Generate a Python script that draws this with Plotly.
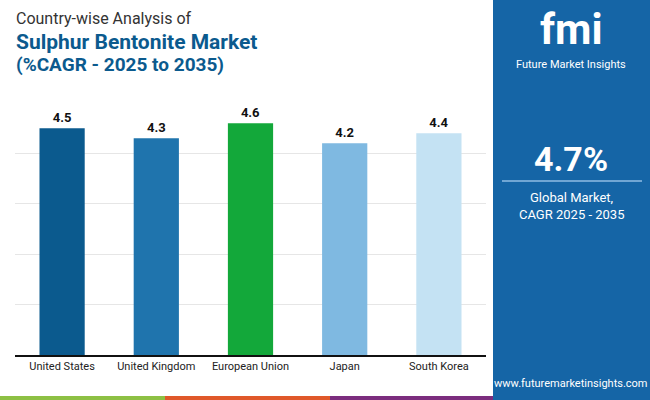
import plotly.graph_objects as go

countries = ["United States", "United Kingdom", "European Union", "Japan", "South Korea"]
cagr = [4.5, 4.3, 4.6, 4.2, 4.4]
colors = ["#0b5a8e", "#1f74ad", "#13a83a", "#7fb9e1", "#c4e2f3"]

W, H = 650, 400
L, R, T, B = 15, 486, 103, 355
PW, PH = R - L, B - T

def px(x, y):
    return (x - L) / PW, (B - y) / PH

fig = go.Figure(go.Bar(
    x=countries, y=cagr, marker=dict(color=colors, line=dict(width=0)),
    text=[f"{v:.1f}" for v in cagr], textposition="outside",
    textfont=dict(family="Roboto", size=13, color="#111", weight="bold"),
    cliponaxis=False, width=0.48,
))

def rect(x0, y0, x1, y1, color):
    a0, b0 = px(x0, y1)
    a1, b1 = px(x1, y0)
    return dict(type="rect", xref="paper", yref="paper", x0=a0, x1=a1, y0=b0, y1=b1,
                fillcolor=color, line=dict(width=0), layer="above")

lx0, ly = px(502, 181)
lx1, _ = px(642, 181)
fig.update_layout(
    width=W, height=H, paper_bgcolor="white", plot_bgcolor="white",
    margin=dict(l=L, r=W - R, t=T, b=H - B, autoexpand=False),
    showlegend=False, font=dict(family="Roboto"),
    xaxis=dict(showline=True, linecolor="#111", linewidth=1.5, automargin=False,
               tickfont=dict(size=11, color="#222"), ticks=""),
    yaxis=dict(range=[0, 5], dtick=1, showticklabels=False, automargin=False,
               gridcolor="#e6e6e6", zeroline=False),
    shapes=[
        rect(493, -2, 652, 402, "#1565a6"),
        dict(type="line", xref="paper", yref="paper", x0=lx0, x1=lx1, y0=ly, y1=ly,
             line=dict(color="#8fbde3", width=1.5), layer="above"),
        rect(-2, 396, 165, 402, "#8dc044"),
        rect(165, 396, 330, 402, "#e0582a"),
        rect(330, 396, 493, 402, "#7b2d7e"),
    ],
)

anns = [
    (14, 18, "Country-wise Analysis of", 16, "#333", "normal", "left"),
    (14, 42, "Sulphur Bentonite Market", 21, "#0b5a8e", "bold", "left"),
    (14, 64, "(%CAGR - 2025 to 2035)", 19, "#0b5a8e", "bold", "left"),
    (571, 30, "fmi", 42, "white", "bold", "center"),
    (571, 64, "Future Market Insights", 11, "white", "normal", "center"),
    (571, 159, "4.7%", 34, "white", "bold", "center"),
    (571, 197, "Global Market,", 13, "white", "normal", "center"),
    (571, 214, "CAGR 2025 - 2035", 13, "white", "normal", "center"),
    (571, 383, "www.futuremarketinsights.com", 11, "white", "normal", "center"),
]
for x, y, t, s, c, w, al in anns:
    ax, ay = px(x, y)
    fig.add_annotation(x=ax, y=ay, xref="paper", yref="paper", text=t, showarrow=False,
                       xanchor=al, yanchor="middle",
                       font=dict(size=s, color=c, family="Roboto", weight=w))

fig.write_html("out.html", config={"displayModeBar": False},
               post_script="document.body.style.margin='0px';document.body.style.overflow='hidden';")
